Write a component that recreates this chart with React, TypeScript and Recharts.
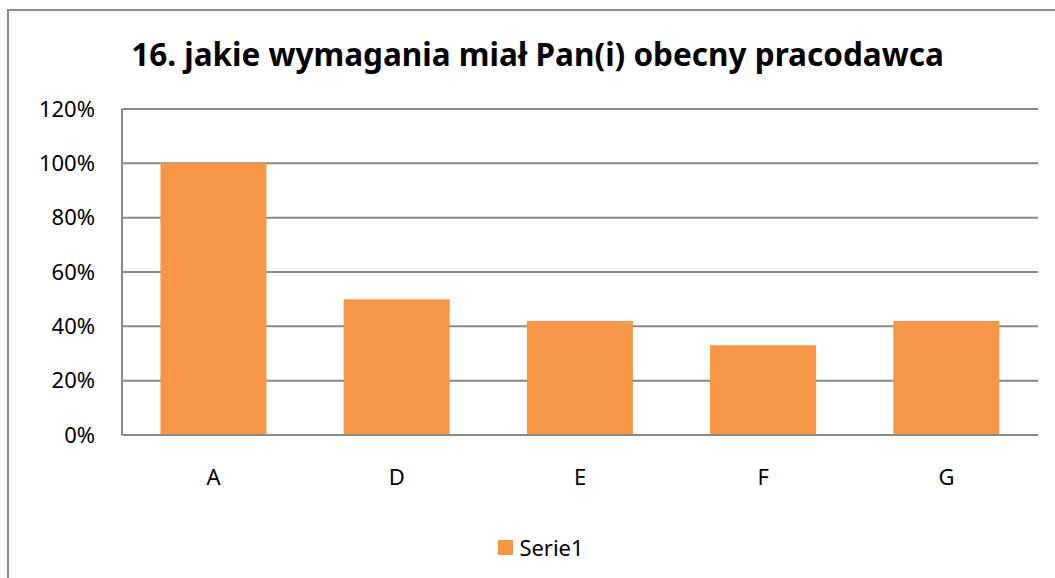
import React from 'react';
import { BarChart, Bar, XAxis, YAxis, CartesianGrid, Legend } from 'recharts';

// Survey answers – share of respondents per option
const categories = ['A', 'D', 'E', 'F', 'G'];
const serie1 = [1.0, 0.5, 0.42, 0.33, 0.42];
const yTicks = [0, 0.2, 0.4, 0.6, 0.8, 1.0, 1.2];

const chartTitle = '16. jakie wymagania miał Pan(i) obecny pracodawca';
const seriesName = 'Serie1';

const data = categories.map((name, i) => ({ name, Serie1: serie1[i] }));

const FONT = '"Noto Sans", "Open Sans", sans-serif';
const ORANGE = '#F79646';
const GRID = '#898989';

function LegendContent() {
  return (
    <div style={{ display: 'flex', justifyContent: 'center', alignItems: 'center', gap: 6, paddingTop: 37, fontFamily: FONT, fontSize: 22, color: '#000', paddingLeft: 44 }}>
      <span style={{ display: 'inline-block', width: 15, height: 15, background: ORANGE }} />
      <span>{seriesName}</span>
    </div>
  );
}

export default function App() {
  return (
    <div style={{ position: 'fixed', left: 0, top: 0, width: 1055, height: 578, overflow: 'hidden', background: '#fff' }}>
      {/* outer chart frame, cut off by the window on the right and bottom */}
      <div style={{ position: 'absolute', left: 7, top: 9, width: 1100, height: 620, border: '2px solid #8c8c8c', boxSizing: 'border-box' }} />
      <div
        style={{
          position: 'absolute', left: 0, top: 34, width: 1075, textAlign: 'center',
          fontFamily: FONT, fontWeight: 700, fontSize: 31.5, color: '#000', lineHeight: '40px',
        }}
      >
        {chartTitle}
      </div>
      <div style={{ position: 'absolute', left: 0, top: 0 }}>
        <BarChart
          width={1055}
          height={578}
          data={data}
          margin={{ top: 109, right: 17, bottom: 0, left: 0 }}
          barCategoryGap="21%"
        >
          <CartesianGrid horizontal vertical={false} stroke={GRID} strokeWidth={2} />
          <XAxis
            dataKey="name"
            height={60}
            tickLine={false}
            tickSize={0}
            tickMargin={34}
            axisLine={{ stroke: GRID, strokeWidth: 2 }}
            tick={{ fill: '#000', fontSize: 22, fontFamily: FONT }}
          />
          <YAxis
            width={122}
            domain={[0, 1.2]}
            ticks={yTicks}
            interval={0}
            tickLine={false}
            tickSize={0}
            tickMargin={27}
            axisLine={{ stroke: GRID, strokeWidth: 2 }}
            tickFormatter={(v: number) => `${Math.round(v * 100)}%`}
            tick={{ fill: '#000', fontSize: 22, fontFamily: FONT }}
          />
          <Legend verticalAlign="bottom" height={83} content={<LegendContent />} />
          <Bar dataKey="Serie1" name={seriesName} fill={ORANGE} isAnimationActive={false} />
        </BarChart>
      </div>
    </div>
  );
}
